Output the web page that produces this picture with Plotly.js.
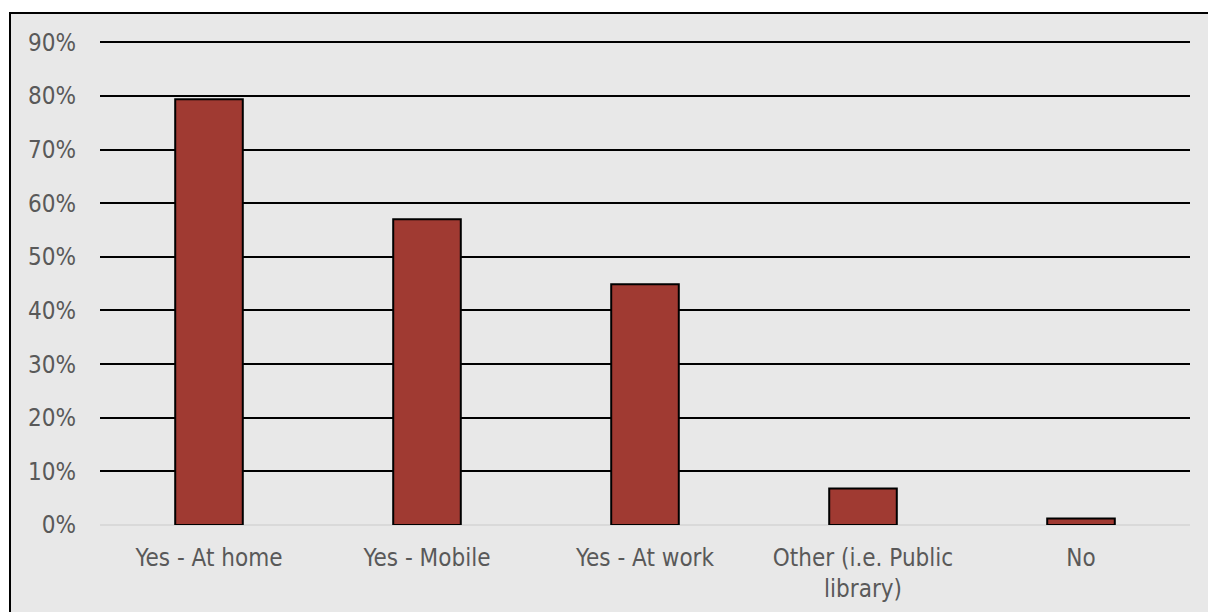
<!DOCTYPE html>
<html>
<head>
<meta charset="utf-8">
<script src="https://cdn.plot.ly/plotly-3.0.1.min.js"></script>
<style>
html,body{margin:0;padding:0;background:#fff;overflow:hidden;}
#chart{width:1208px;height:612px;}
</style>
</head>
<body>
<div id="chart"></div>
<script>
const categories = ["Yes - At home", "Yes - Mobile", "Yes - At work", "Other (i.e. Public<br>library)", "No"];
const values = [79.4, 57.0, 44.9, 6.8, 1.2];
const tickVals = [0, 10, 20, 30, 40, 50, 60, 70, 80, 90];
const tickText = ["0%", "10%", "20%", "30%", "40%", "50%", "60%", "70%", "80%", "90%"];

const FONT = "DejaVu Sans Condensed, DejaVu Sans";
const W = 1208, H = 612;
const M = {l: 100, r: 18, t: 37, b: 87};
const plotW = W - M.l - M.r, plotH = H - M.t - M.b;
// chart frame: left edge at pixel 10, top edge at pixel 13, extending past right/bottom of view
const frameX0 = (10 - M.l) / plotW;
const frameY1 = (H - M.b - 13) / plotH;

const trace = {
  type: "bar",
  x: categories,
  y: values,
  marker: {color: "#a03a32", line: {color: "#000", width: 2}},
  hoverinfo: "none"
};

const layout = {
  width: W,
  height: H,
  paper_bgcolor: "#ffffff",
  plot_bgcolor: "rgba(0,0,0,0)",
  margin: M,
  bargap: 0.69,
  showlegend: false,
  font: {family: FONT, size: 24, color: "#595959"},
  shapes: [{
    type: "rect", xref: "paper", yref: "paper", layer: "below",
    x0: frameX0, x1: 1.2, y0: -0.5, y1: frameY1,
    fillcolor: "#e8e8e8", line: {color: "#000", width: 2}
  }],
  xaxis: {
    type: "category",
    showgrid: false,
    showline: false,
    ticks: "",
    ticklabelstandoff: 16,
    tickfont: {family: FONT, size: 24, color: "#595959"}
  },
  yaxis: {
    range: [0, 91],
    tickvals: tickVals,
    ticktext: tickText,
    showgrid: true,
    gridcolor: "#000",
    gridwidth: 2,
    zeroline: true,
    zerolinecolor: "#d9d9d9",
    zerolinewidth: 2,
    showline: false,
    ticks: "",
    ticklabelstandoff: 23,
    tickfont: {family: FONT, size: 24, color: "#595959"}
  }
};

Plotly.newPlot("chart", [trace], layout, {staticPlot: true, displayModeBar: false});
</script>
</body>
</html>
